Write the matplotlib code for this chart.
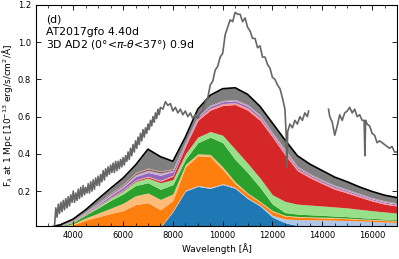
import numpy as np
import matplotlib
matplotlib.use('Agg')
import matplotlib.pyplot as plt
from matplotlib.ticker import MultipleLocator

# model wavelength grid [A]
wave = [2500, 3000, 3500, 4000, 4500, 5000, 5500, 6000, 6500, 7000,
        7500, 8000, 8500, 9000, 9500, 10000, 10500, 11000, 11500, 12000,
        12500, 13000, 13500, 14000, 14500, 15000, 15500, 16000, 16500, 17000]

# cumulative upper edge of each stacked component (bottom -> top)
blue = [0, 0, 0, 0, 0, 0, 0, 0, 0, 0, .005, .09, .2, .225, .215, .235, .215, .16, .12, .06,
        .03, .015, .012, .01, .009, .008, .007, .006, .005, .005]
lblue = [0, 0, 0, 0, 0, 0, 0, 0, 0, 0, .007, .095, .205, .23, .22, .24, .22, .165, .125, .07,
         .05, .047, .046, .045, .044, .042, .04, .037, .034, .032]
orange = [0, .001, .007, .02, .045, .062, .08, .095, .128, .138, .1, .15, .33, .39, .385, .316, .24, .185, .14, .09,
          .066, .06, .058, .056, .054, .052, .048, .045, .042, .04]
lorange = [0, .0015, .009, .025, .056, .082, .108, .135, .175, .19, .155, .185, .343, .4, .397, .33, .25, .19, .145, .095,
           .07, .064, .062, .06, .058, .055, .051, .048, .045, .043]
green = [0, .002, .012, .033, .072, .11, .15, .185, .23, .245, .21, .235, .37, .46, .49, .46, .37, .3, .22, .13,
         .085, .077, .073, .07, .066, .063, .058, .054, .05, .047]
lgreen = [0, .0022, .013, .036, .077, .118, .162, .2, .252, .27, .245, .262, .4, .49, .52, .5, .425, .35, .27, .18,
          .145, .13, .125, .12, .115, .11, .102, .095, .088, .082]
red = [0, .0023, .0135, .037, .079, .12, .165, .204, .257, .276, .253, .28, .44, .58, .635, .66, .665, .635, .58, .49,
       .395, .31, .272, .24, .21, .19, .168, .147, .13, .12]
lred = [0, .0024, .014, .038, .08, .122, .167, .207, .26, .28, .258, .285, .447, .59, .645, .67, .675, .647, .592, .498,
        .403, .318, .28, .247, .218, .197, .174, .153, .136, .125]
purple = [0, .0026, .015, .04, .084, .128, .177, .22, .278, .3, .285, .305, .455, .597, .655, .68, .685, .657, .602, .506,
          .411, .326, .287, .254, .225, .203, .18, .158, .141, .13]
lpurple = [0, .0027, .016, .042, .088, .133, .183, .228, .288, .312, .297, .312, .46, .601, .659, .684, .69, .662, .607, .511,
           .416, .33, .291, .258, .229, .207, .184, .162, .145, .134]
brown = [0, .0028, .0165, .043, .09, .136, .188, .234, .296, .32, .305, .317, .462, .603, .661, .686, .692, .664, .609, .514,
         .419, .333, .294, .261, .231, .209, .186, .164, .147, .136]
lbrown = [0, .0029, .017, .044, .091, .138, .19, .237, .3, .324, .308, .32, .463, .604, .662, .687, .693, .665, .61, .515,
          .425, .334, .295, .262, .232, .21, .187, .165, .148, .137]
total = [0, .004, .02, .05, .1, .158, .215, .27, .34, .425, .385, .36, .49, .64, .715, .75, .755, .72, .655, .565,
         .475, .39, .345, .31, .275, .25, .222, .198, .178, .165]

layers = [blue, lblue, orange, lorange, green, lgreen, red, lred,
          purple, lpurple, brown, lbrown, total]
colors = ['#1f77b4', '#aec7e8', '#ff7f0e', '#ffbb78', '#2ca02c', '#98df8a',
          '#d62728', '#ff9896', '#9467bd', '#c5b0d5', '#8c564b', '#c49c94', '#7f7f7f']

# observed spectrum, blue part sampled every 50 A
obs_blue_wave = np.arange(3250, 7500, 50)
obs_blue_flux = [0.02, 0.11, 0.06, 0.13, 0.08, 0.14, 0.09, 0.15, 0.10, 0.16,
                 0.11, 0.17, 0.12, 0.18, 0.14, 0.20, 0.14, 0.19, 0.15, 0.21,
                 0.16, 0.22, 0.17, 0.23, 0.18, 0.22, 0.19, 0.24, 0.19, 0.25,
                 0.20, 0.26, 0.21, 0.27, 0.23, 0.28, 0.23, 0.29, 0.25, 0.31,
                 0.26, 0.32, 0.28, 0.33, 0.29, 0.34, 0.30, 0.35, 0.30, 0.36,
                 0.31, 0.36, 0.32, 0.37, 0.33, 0.38, 0.34, 0.39, 0.36, 0.41,
                 0.37, 0.43, 0.39, 0.45, 0.41, 0.47, 0.43, 0.49, 0.45, 0.51,
                 0.47, 0.53, 0.49, 0.54, 0.51, 0.56, 0.53, 0.58, 0.55, 0.60,
                 0.57, 0.62, 0.59, 0.64, 0.61]
obs_red_wave = [7500, 7600, 7700, 7800, 7900, 8000, 8100, 8200, 8300, 8400,
                8500, 8600, 8700, 8800, 8900, 9000, 9100, 9200, 9300, 9400,
                9500, 9600, 9700, 9800, 9900, 10000, 10100, 10200, 10300, 10400,
                10500, 10600, 10700, 10800, 10900, 11000, 11100, 11200, 11300, 11400,
                11500, 11600, 11700, 11800, 11900, 12000, 12100, 12200, 12300, 12400,
                12500, 12550, 12580, 12610, 12700, 12800, 12900, 13000, 13100, 13200,
                13300, 13400, 13450, 13500,
                14250, 14300, 14400, 14500, 14600, 14700, 14800, 14900, 15000, 15100,
                15200, 15300, 15400, 15500, 15600, 15680, 15710, 15740, 15800, 15900,
                16000, 16100, 16200, 16300, 16400, 16500, 16600, 16700, 16800, 16900, 17000]
obs_red_flux = [0.65, 0.64, 0.68, 0.66, 0.67, 0.63, 0.65, 0.62, 0.64, 0.61,
                0.63, 0.60, 0.62, 0.59, 0.61, 0.59, 0.62, 0.63, 0.68, 0.70,
                0.77, 0.79, 0.85, 0.87, 0.92, 0.94, 1.04, 1.08, 1.12, 1.11,
                1.16, 1.15, 1.15, 1.11, 1.13, 1.08, 1.06, 1.02, 1.02, 0.97,
                0.98, 0.92, 0.92, 0.88, 0.86, 0.81, 0.80, 0.77, 0.75, 0.70,
                0.64, 0.50, 0.33, 0.52, 0.56, 0.54, 0.58, 0.56, 0.60, 0.58,
                0.62, 0.60, 0.63, np.nan,
                0.64, 0.60, 0.57, 0.50, 0.55, 0.61, 0.58, 0.62, 0.63, 0.65,
                0.62, 0.64, 0.60, 0.61, 0.58, 0.58, 0.39, 0.58, 0.56, 0.55,
                0.51, 0.50, 0.46, 0.47, 0.46, 0.45, 0.44, 0.43, 0.44, 0.41, 0.41]

fig = plt.figure(figsize=(3.99, 2.59), dpi=100)
ax = fig.add_axes([0.09, 0.127, 0.905, 0.854])

bottom = np.zeros(len(wave))
for top, c in zip(layers, colors):
    ax.fill_between(wave, bottom, top, color=c, lw=0)
    bottom = np.array(top)
ax.plot(wave, total, color='k', lw=1.2)

ax.plot(np.concatenate([obs_blue_wave, obs_red_wave]),
        np.concatenate([obs_blue_flux, obs_red_flux]),
        color='#666666', lw=1.2)

ax.set_xlim(2500, 17000)
ax.set_ylim(0.012, 1.2)
ax.xaxis.set_major_locator(MultipleLocator(2000))
ax.xaxis.set_minor_locator(MultipleLocator(500))
ax.yaxis.set_major_locator(MultipleLocator(0.2))
ax.tick_params(which='both', direction='in', top=True, right=True, labelsize=6)
ax.tick_params(which='major', length=3.5, width=0.6)
ax.tick_params(which='minor', length=2, width=0.5)
for s in ax.spines.values():
    s.set_linewidth(0.8)

ax.set_xlabel('Wavelength [Å]', fontsize=6.5, labelpad=2)
ax.set_ylabel(r'F$_\lambda$ at 1 Mpc [10$^{-13}$ erg/s/cm$^2$/Å]', fontsize=6.5, labelpad=2)

ax.text(0.028, 0.932, '(d)', transform=ax.transAxes, fontsize=7.8, va='center')
ax.text(0.028, 0.878, 'AT2017gfo 4.40d', transform=ax.transAxes, fontsize=7.8, va='center')
ax.text(0.028, 0.819, r'3D AD2 (0°<$\pi$-$\theta$<37°) 0.9d', transform=ax.transAxes,
        fontsize=7.8, va='center')

fig.savefig('out.png', dpi=100)
